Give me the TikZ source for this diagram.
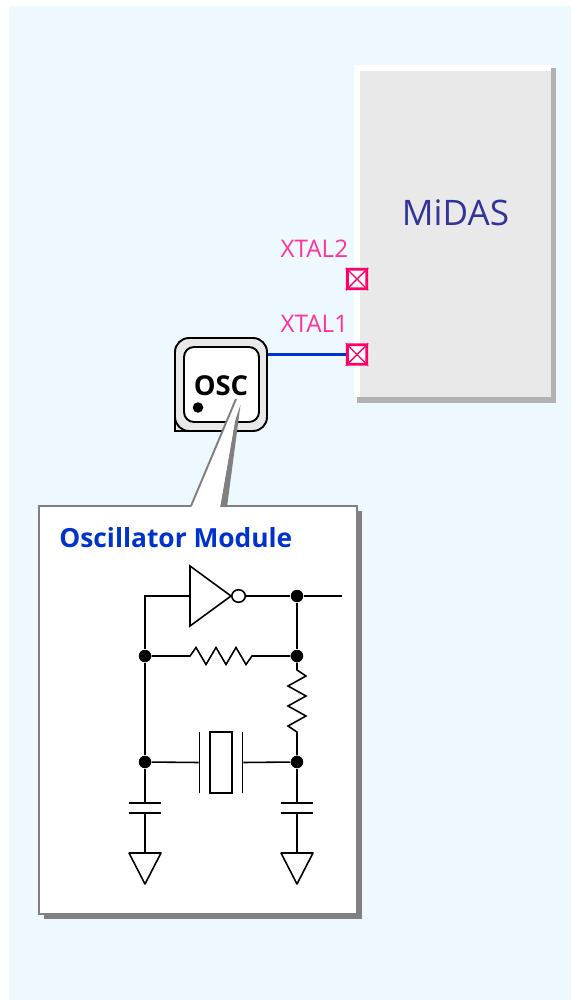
\documentclass[tikz,border=0pt]{standalone}
\usepackage{fontspec}
\setmainfont{Open Sans}
\usepackage{tikz}
\usetikzlibrary{shapes.geometric, positioning, calc}

\definecolor{panelblue}{HTML}{EDF8FF}
\definecolor{chipgray}{HTML}{E9E9E9}
\definecolor{chipshadow}{HTML}{B2B2B2}
\definecolor{pinpink}{HTML}{FF0066}
\definecolor{labelpink}{HTML}{FF3399}
\definecolor{wireblue}{HTML}{0033CC}
\definecolor{boxgray}{HTML}{808080}
\definecolor{titlenavy}{HTML}{333399}

\tikzset{
    pin box/.style={draw=pinpink, fill=white, line width=1.7pt, rounded corners=0.5pt, minimum size=0.39cm, inner sep=0pt},
    pin label/.style={text=labelpink, font=\fontsize{13.8}{16}\selectfont, inner sep=0pt, anchor=south east},
    dot/.style={circle, fill=black, minimum size=0.25cm, inner sep=0pt},
    wire/.style={line width=0.9pt, black, line join=miter},
    part/.style={draw, line width=0.9pt, inner sep=0pt},
}

\begin{document}
\begin{tikzpicture}[x=0.02cm, y=-0.02cm]
    \useasboundingbox (0,0) rectangle (571,1000);
    % Background
    \fill[panelblue] (9,6) rectangle (571,1000);
    % Chip
    \fill[chipshadow] (357,68) rectangle (556,403);
    \node[fill=white, minimum width=3.94cm, minimum height=6.64cm, inner sep=0pt] (Chip) at (452.5,231) {};
    \fill[chipgray] (360,71) rectangle (Chip.south east);
    \node[text=titlenavy, font=\fontsize{20}{24}\selectfont, inner sep=0pt] (ChipName) at (455.5,213) {MiDAS};
    % Pins
    \node[pin box] (Xtal2) at (357,279) {};
    \node[pin box] (Xtal1) at (357,354.5) {};
    \foreach \p in {Xtal1, Xtal2} {
        \draw[pinpink, line width=0.8pt] (\p.north west) -- (\p.south east);
        \draw[pinpink, line width=0.8pt] (\p.north east) -- (\p.south west);
    }
    \node[pin label] (Xtal2Name) at (348.5,258) {XTAL2};
    \node[pin label] (Xtal1Name) at (348.5,333) {XTAL1};
    % Oscillator package
    \draw[fill=chipgray, line width=1.1pt] (175,416) -- (175,431) -- (190,431);
    \node[draw, fill=chipgray, line width=1.1pt, rounded corners=0.28cm, minimum width=1.84cm, minimum height=1.86cm, inner sep=0pt] (Osc) at (221,384.5) {};
    \node[draw, fill=white, line width=1.1pt, rounded corners=0.2cm, minimum width=1.5cm, minimum height=1.5cm, inner sep=0pt] (OscFace) at (221.5,384.5) {};
    \node[font=\fontsize{15.6}{18}\bfseries\selectfont, inner sep=0pt] (OscName) at (221,386) {OSC};
    \node[dot, minimum size=0.21cm] (OscDot) at (198,407.5) {};
    \draw[wireblue, line width=1.3pt] (Xtal1.west) -- (Xtal1.west -| Osc.east);
    % Callout
    \fill[boxgray] (44,511) rectangle (362,919);
    \node[draw=boxgray, fill=white, line width=1.1pt, minimum width=6.36cm, minimum height=8.16cm, inner sep=0pt] (Callout) at (198,710) {};
    \fill[boxgray] (240.5,405) -- (227,507) -- (220,507) -- (235,421) -- cycle;
    \fill[white] (191,507.5) -- (236,399) -- (235,421) -- (220,507.5) -- cycle;
    \draw[boxgray, line width=1.1pt] (191,506) -- (236,399);
    \node[text=wireblue, font=\fontsize{15}{18}\bfseries\selectfont, anchor=base west, inner sep=0pt] (CalloutName) at (59,547) {Oscillator Module};
    % Inverter
    \draw[part, fill=white] (190,566) coordinate (InvIn) -- (231,596) coordinate (InvTip) -- (190,626) -- cycle;
    \node[part, ellipse, fill=white, minimum width=0.27cm, minimum height=0.25cm, anchor=west] (Bubble) at (InvTip) {};
    % Junctions
    \node[dot] (TopRight) at (297,596) {};
    \node[dot] (MidLeft) at (145,656) {};
    \node[dot] (MidRight) at (297,656) {};
    \node[dot] (LowLeft) at (145,762) {};
    \node[dot] (LowRight) at (297,762) {};
    \coordinate (Out) at (342,596);
    \coordinate (TopLeft) at (145,596);
    % Wires
    \draw[wire] (Bubble.east) -- (TopRight) -- (Out);
    \draw[wire] (190,596) -- (TopLeft) -- (MidLeft);
    \draw[wire] (MidLeft) -- (LowLeft);
    \draw[wire] (TopRight) -- (MidRight);
    % Resistors
    \draw[wire] (MidLeft) -- (190,656) -- ++(6,-8.5) -- ++(10,17) -- ++(10,-17) -- ++(10,17) -- ++(10,-17) -- ++(10,17) -- (252,656) -- (MidRight);
    \draw[wire] (MidRight) -- (297,670) -- ++(9,6) -- ++(-18,10) -- ++(18,10) -- ++(-18,10) -- ++(18,10) -- ++(-18,10) -- (297,732) -- (LowRight);
    % Crystal
    \node[part, minimum width=0.44cm, minimum height=1.22cm] (Crystal) at (221,762.5) {};
    \node[part, minimum height=1.22cm, minimum width=0pt, left=0.18cm of Crystal] (PlateL) {};
    \node[part, minimum height=1.22cm, minimum width=0pt, right=0.18cm of Crystal] (PlateR) {};
    \draw[wire] (LowLeft) -- (PlateL);
    \draw[wire] (PlateR) -- (LowRight);
    % Capacitors and grounds
    \foreach \n/\x in {LowLeft/145, LowRight/297} {
        \draw[wire] (\n) -- (\x,803);
        \draw[wire] (\x-16,803) -- (\x+16,803);
        \draw[wire] (\x-16,813) -- (\x+16,813);
        \draw[wire] (\x,813) -- (\x,853);
        \draw[wire, line join=round] (\x-16,853) -- (\x+16,853) -- (\x,884) -- cycle;
    }
\end{tikzpicture}
\end{document}
